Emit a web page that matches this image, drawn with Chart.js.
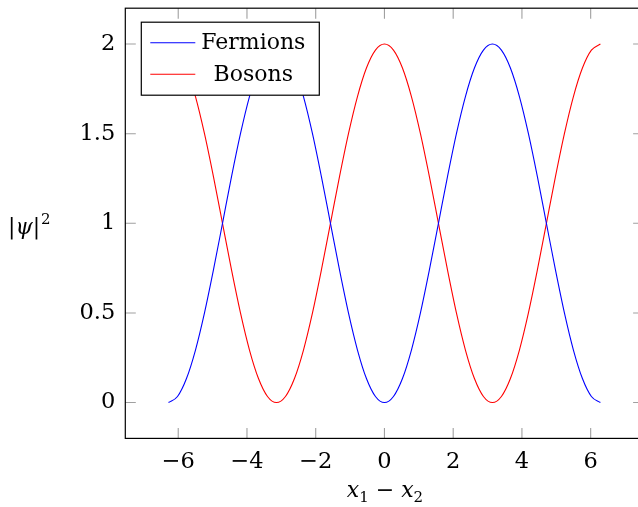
<!DOCTYPE html>
<html><head><meta charset="utf-8">
<script src="https://cdn.jsdelivr.net/npm/chart.js@4/dist/chart.umd.min.js"></script>
<style>
html,body{margin:0;padding:0;overflow:hidden;background:#fff;width:638px;height:507px}
#wrap{position:absolute;left:0;top:0;width:660px;height:507px}
</style>
</head><body><div id="wrap"><canvas id="c" width="660" height="507"></canvas></div>
<script>
// x1 - x2 sample positions
const xValues = [-6.283,-6.021,-5.760,-5.498,-5.236,-4.974,-4.712,-4.451,-4.189,-3.927,-3.665,-3.403,-3.142,-2.880,-2.618,-2.356,-2.094,-1.833,-1.571,-1.309,-1.047,-0.785,-0.524,-0.262,0,
  0.262,0.524,0.785,1.047,1.309,1.571,1.833,2.094,2.356,2.618,2.880,3.142,3.403,3.665,3.927,4.189,4.451,4.712,4.974,5.236,5.498,5.760,6.021,6.283];
const fermions = [0,0.034,0.134,0.293,0.5,0.741,1,1.259,1.5,1.707,1.866,1.966,2,1.966,1.866,1.707,1.5,1.259,1,0.741,0.5,0.293,0.134,0.034,0,
  0.034,0.134,0.293,0.5,0.741,1,1.259,1.5,1.707,1.866,1.966,2,1.966,1.866,1.707,1.5,1.259,1,0.741,0.5,0.293,0.134,0.034,0];
const bosons = [2,1.966,1.866,1.707,1.5,1.259,1,0.741,0.5,0.293,0.134,0.034,0,0.034,0.134,0.293,0.5,0.741,1,1.259,1.5,1.707,1.866,1.966,2,
  1.966,1.866,1.707,1.5,1.259,1,0.741,0.5,0.293,0.134,0.034,0,0.034,0.134,0.293,0.5,0.741,1,1.259,1.5,1.707,1.866,1.966,2];
const seriesNames = ['Fermions','Bosons'];
const seriesColors = ['#0000ff','#ff0000'];
const xTicks = [-6,-4,-2,0,2,4,6];
const yTicks = [0,0.5,1,1.5,2];

const FONT = '"DejaVu Serif", serif';

const framePlugin = {
  id: 'frame',
  afterDraw(chart) {
    const ctx = chart.ctx, a = chart.chartArea;
    const xs = chart.scales.x, ys = chart.scales.y;
    const TL = 10.5;
    ctx.save();
    // inward ticks on all sides
    ctx.strokeStyle = '#a0a0a0';
    ctx.lineWidth = 1.1;
    ctx.beginPath();
    xTicks.forEach(v => {
      const px = xs.getPixelForValue(v);
      ctx.moveTo(px, a.bottom); ctx.lineTo(px, a.bottom - TL);
      ctx.moveTo(px, a.top); ctx.lineTo(px, a.top + TL);
    });
    yTicks.forEach(v => {
      const py = ys.getPixelForValue(v);
      ctx.moveTo(a.left, py); ctx.lineTo(a.left + TL, py);
      ctx.moveTo(a.right, py); ctx.lineTo(a.right - TL, py);
    });
    ctx.stroke();
    // frame
    ctx.strokeStyle = '#000';
    ctx.lineWidth = 1.2;
    ctx.strokeRect(a.left, a.top, a.right - a.left, a.bottom - a.top);

    // legend
    const lx = a.left + 16, ly = a.top + 14, lw = 178, lh = 73;
    ctx.fillStyle = '#fff';
    ctx.fillRect(lx, ly, lw, lh);
    ctx.strokeStyle = '#000';
    ctx.lineWidth = 1.2;
    ctx.strokeRect(lx, ly, lw, lh);
    ctx.font = '22px ' + FONT;
    ctx.textAlign = 'center';
    ctx.textBaseline = 'middle';
    const rows = [ly + 20.5, ly + 52];
    seriesNames.forEach((n, i) => {
      ctx.strokeStyle = seriesColors[i];
      ctx.lineWidth = 1.1;
      ctx.beginPath();
      ctx.moveTo(lx + 9, rows[i]); ctx.lineTo(lx + 54, rows[i]);
      ctx.stroke();
      ctx.fillStyle = '#000';
      ctx.fillText(n, lx + 112, rows[i] + 1);
    });

    // y title |ψ|^2
    ctx.textAlign = 'left';
    ctx.textBaseline = 'alphabetic';
    let x = 8; const yb = 234;
    ctx.font = '22px ' + FONT;
    ctx.fillText('|', x, yb); x += ctx.measureText('|').width;
    ctx.font = 'italic 22px ' + FONT;
    ctx.fillText('ψ', x, yb); x += ctx.measureText('ψ').width;
    ctx.font = '22px ' + FONT;
    ctx.fillText('|', x, yb); x += ctx.measureText('|').width + 1;
    ctx.font = '15px ' + FONT;
    ctx.fillText('2', x, yb - 10);

    // x title x1 - x2
    const xb = 497;
    const parts = [
      ['x', 'italic 22px ', 0], ['1', '15px ', 5], [' − ', '22px ', 0], ['x', 'italic 22px ', 0], ['2', '15px ', 5]
    ];
    let total = 0;
    parts.forEach(p => { ctx.font = p[1] + FONT; total += ctx.measureText(p[0]).width; });
    x = 385 - total / 2;
    parts.forEach(p => { ctx.font = p[1] + FONT; ctx.fillText(p[0], x, xb + p[2]); x += ctx.measureText(p[0]).width; });
    ctx.restore();
  }
};

new Chart(document.getElementById('c'), {
  type: 'line',
  data: {
    datasets: [
      { label: seriesNames[0], data: xValues.map((x, i) => ({x, y: fermions[i]})), borderColor: seriesColors[0], borderWidth: 1.1, pointRadius: 0, cubicInterpolationMode: 'monotone', fill: false },
      { label: seriesNames[1], data: xValues.map((x, i) => ({x, y: bosons[i]})), borderColor: seriesColors[1], borderWidth: 1.1, pointRadius: 0, cubicInterpolationMode: 'monotone', fill: false }
    ]
  },
  options: {
    responsive: false,
    animation: false,
    devicePixelRatio: 1,
    layout: { padding: { left: 0, right: 16.4, top: 8.2, bottom: 0 } },
    plugins: { legend: { display: false }, tooltip: { enabled: false } },
    scales: {
      x: {
        type: 'linear', min: -7.54, max: 7.54,
        afterBuildTicks: s => { s.ticks = xTicks.map(v => ({value: v})); },
        afterFit: s => { s.height = 68.6; s.paddingLeft = 0; s.paddingRight = 0; },
        grid: { display: false, drawTicks: false },
        border: { display: false },
        ticks: { padding: 10, color: '#000', font: { family: FONT, size: 22.5 }, maxRotation: 0,
          callback: v => String(v).replace('-', '−') }
      },
      y: {
        type: 'linear', min: -0.2, max: 2.2,
        afterBuildTicks: s => { s.ticks = yTicks.map(v => ({value: v})); },
        afterFit: s => { s.width = 125.3; s.paddingTop = 0; s.paddingBottom = 0; },
        grid: { display: false, drawTicks: false },
        border: { display: false },
        ticks: { padding: 10, color: '#000', font: { family: FONT, size: 22.5 },
          callback: v => String(v).replace('-', '−') }
      }
    }
  },
  plugins: [framePlugin]
});
</script>
</body></html>
